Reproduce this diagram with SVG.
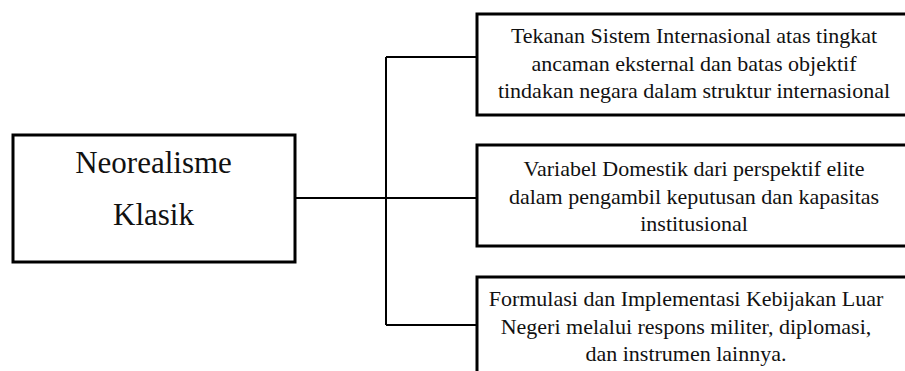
<svg xmlns="http://www.w3.org/2000/svg" width="905" height="371" viewBox="0 0 905 371">
<style>
.box{fill:#fff;stroke:#000;stroke-width:3}
.con{fill:none;stroke:#000;stroke-width:2}
.t{font-family:"Liberation Serif","Times New Roman",serif;fill:#111;text-anchor:middle}
.s{font-size:22px}
.b{font-size:31px}
</style>
<rect width="905" height="371" fill="#fff"/>
<g id="connectors">
<path class="con" d="M295 198H386M386 57V325M386 57H476M386 198H477M386 325H476"/>
</g>
<g id="root">
<rect class="box" x="13" y="135" width="282" height="127"/>
<text class="t b" x="153.5" y="173">Neorealisme</text>
<text class="t b" x="153.5" y="225">Klasik</text>
</g>
<g id="n1">
<rect class="box" x="477" y="14" width="440" height="101"/>
<text class="t s" x="694" y="43">Tekanan Sistem Internasional atas tingkat</text>
<text class="t s" x="694" y="70.5">ancaman eksternal dan batas objektif</text>
<text class="t s" x="694" y="98">tindakan negara dalam struktur internasional</text>
</g>
<g id="n2">
<rect class="box" x="477" y="145" width="440" height="101"/>
<text class="t s" x="694" y="176">Variabel Domestik dari perspektif elite</text>
<text class="t s" x="694" y="203.5">dalam pengambil keputusan dan kapasitas</text>
<text class="t s" x="694" y="231">institusional</text>
</g>
<g id="n3">
<rect class="box" x="477" y="277" width="440" height="110"/>
<text class="t s" x="686" y="306">Formulasi dan Implementasi Kebijakan Luar</text>
<text class="t s" x="686" y="333.5">Negeri melalui respons militer, diplomasi,</text>
<text class="t s" x="686" y="361">dan instrumen lainnya.</text>
</g>
</svg>
